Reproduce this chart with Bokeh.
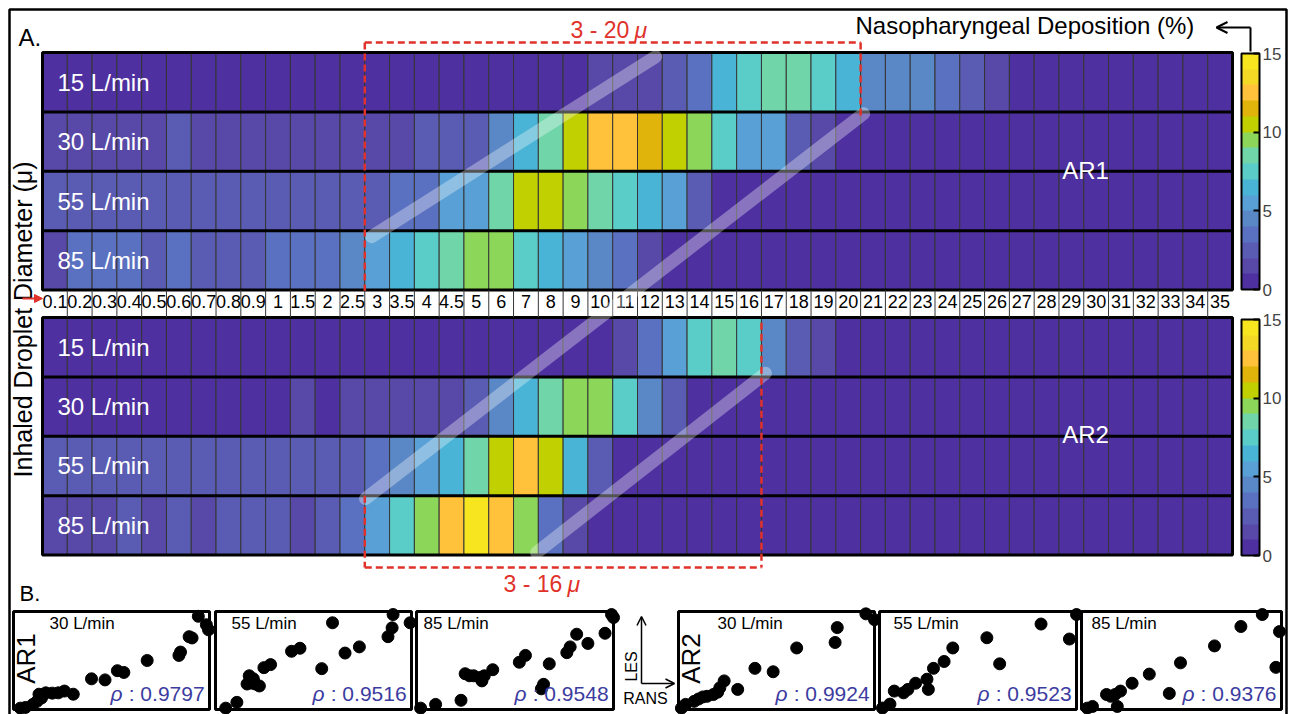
from math import pi
from bokeh.plotting import figure
from bokeh.models import (Range1d, LinearColorMapper, ColorBar, FixedTicker, Label,
                          Arrow, OpenHead, NormalHead, ColumnDataSource, BoxAnnotation)
from bokeh.transform import transform
from bokeh.core.properties import value
from bokeh.embed import file_html
from bokeh.resources import INLINE

# ---------------- data ----------------
diameters = ["0.1", "0.2", "0.3", "0.4", "0.5", "0.6", "0.7", "0.8", "0.9", "1", "1.5", "2", "2.5",
             "3", "3.5", "4", "4.5", "5", "6", "7", "8", "9", "10", "11", "12", "13", "14", "15",
             "16", "17", "18", "19", "20", "21", "22", "23", "24", "25", "26", "27", "28", "29",
             "30", "31", "32", "33", "34", "35"]
flow_rates = ["15 L/min", "30 L/min", "55 L/min", "85 L/min"]

# Nasopharyngeal deposition (%) per diameter, AR1
ar1_15 = [0.4, 0.4, 0.4, 0.4, 0.4, 0.4, 0.4, 0.4, 0.4, 0.4, 0.4, 0.4, 0.4, 0.4, 0.4, 0.4,
          0.4, 0.4, 0.4, 0.4, 0.4, 0.4, 1.5, 1.5, 1.5, 2.5, 3.5, 6.5, 7.5, 8.5, 8.5, 7.5,
          6.5, 4.5, 4.5, 4.5, 3.5, 2.5, 1.5, 0.4, 0.4, 0.4, 0.4, 0.4, 0.4, 0.4, 0.4, 0.4]
ar1_30 = [1.5, 1.5, 1.5, 1.5, 1.5, 2.5, 1.5, 1.5, 1.5, 1.5, 1.5, 1.5, 1.5, 1.5, 1.5, 2.5,
          2.5, 2.5, 4.5, 6.5, 8.5, 10.5, 12.5, 12.5, 11.5, 10.5, 9.5, 7.5, 5.5, 5.5, 2.5, 1.5,
          0.4, 0.4, 0.4, 0.4, 0.4, 0.4, 0.4, 0.4, 0.4, 0.4, 0.4, 0.4, 0.4, 0.4, 0.4, 0.4]
ar1_55 = [2.5, 2.5, 2.5, 2.5, 2.5, 2.5, 2.5, 2.5, 2.5, 2.5, 2.5, 2.5, 2.5, 2.5, 3.5, 3.5,
          5.5, 5.5, 8.5, 10.5, 10.5, 9.5, 8.5, 7.5, 6.5, 5.5, 2.5, 0.4, 0.4, 0.4, 0.4, 0.4,
          0.4, 0.4, 0.4, 0.4, 0.4, 0.4, 0.4, 0.4, 0.4, 0.4, 0.4, 0.4, 0.4, 0.4, 0.4, 0.4]
ar1_85 = [1.5, 3.5, 3.5, 3.5, 2.5, 3.5, 2.5, 2.5, 2.5, 3.5, 3.5, 3.5, 4.5, 5.5, 6.5, 7.5,
          8.5, 9.5, 9.5, 7.5, 6.5, 5.5, 4.5, 3.5, 1.5, 0.4, 0.4, 0.4, 0.4, 0.4, 0.4, 0.4,
          0.4, 0.4, 0.4, 0.4, 0.4, 0.4, 0.4, 0.4, 0.4, 0.4, 0.4, 0.4, 0.4, 0.4, 0.4, 0.4]
# AR2
ar2_15 = [0.4, 0.4, 0.4, 0.4, 0.4, 0.4, 0.4, 0.4, 0.4, 0.4, 0.4, 0.4, 0.4, 0.4, 0.4, 0.4,
          0.4, 0.4, 0.4, 0.4, 0.4, 0.4, 0.4, 1.5, 3.5, 5.5, 7.5, 8.5, 7.5, 4.5, 2.5, 1.5,
          0.4, 0.4, 0.4, 0.4, 0.4, 0.4, 0.4, 0.4, 0.4, 0.4, 0.4, 0.4, 0.4, 0.4, 0.4, 0.4]
ar2_30 = [0.4, 0.4, 0.4, 0.4, 0.4, 0.4, 0.4, 0.4, 0.4, 0.4, 1.5, 0.4, 1.5, 1.5, 1.5, 1.5,
          1.5, 2.5, 4.5, 6.5, 8.5, 9.5, 9.5, 7.5, 4.5, 2.5, 0.4, 0.4, 0.4, 0.4, 0.4, 0.4,
          0.4, 0.4, 0.4, 0.4, 0.4, 0.4, 0.4, 0.4, 0.4, 0.4, 0.4, 0.4, 0.4, 0.4, 0.4, 0.4]
ar2_55 = [2.5, 2.5, 2.5, 2.5, 2.5, 2.5, 2.5, 2.5, 2.5, 2.5, 2.5, 2.5, 2.5, 3.5, 4.5, 5.5,
          6.5, 8.5, 10.5, 12.5, 10.5, 6.5, 2.5, 0.4, 0.4, 0.4, 0.4, 0.4, 0.4, 0.4, 0.4, 0.4,
          0.4, 0.4, 0.4, 0.4, 0.4, 0.4, 0.4, 0.4, 0.4, 0.4, 0.4, 0.4, 0.4, 0.4, 0.4, 0.4]
ar2_85 = [1.5, 1.5, 1.5, 2.5, 1.5, 2.5, 1.5, 2.5, 2.5, 2.5, 1.5, 2.5, 3.5, 5.5, 7.5, 9.5,
          12.5, 14.5, 12.5, 9.5, 3.5, 1.5, 0.4, 0.4, 0.4, 0.4, 0.4, 0.4, 0.4, 0.4, 0.4, 0.4,
          0.4, 0.4, 0.4, 0.4, 0.4, 0.4, 0.4, 0.4, 0.4, 0.4, 0.4, 0.4, 0.4, 0.4, 0.4, 0.4]

palette = ["#4E30A0", "#5848A8", "#5A5CB4", "#5A70C0", "#5A88C6", "#58A0D6", "#4AB4D6",
           "#5ACDC8", "#70D6AA", "#8CD65A", "#C0D000", "#E0B40A", "#FFC23A", "#F3D926", "#F6E51F"]
cbar_ticks = [0, 5, 10, 15]

# Panel B: RANS (x) vs LES (y) deposition, relative scale
ar1_30_rans = [3.5, 6.1, 9.9, 12, 13, 14.3, 16.5, 19.8, 22.9, 26, 30.5, 39.8, 46.7, 53, 56.3, 68.2, 84.4, 85.2, 89.6, 91.1, 94.3, 98.4, 99.5]
ar1_30_les = [1.4, 2.1, 5.2, 8.3, 15.6, 11.8, 17, 16.7, 17, 18.8, 15.6, 31.3, 30.2, 39.6, 37.8, 50, 55.2, 58.6, 74.3, 73, 95.1, 86.5, 81.3]
ar1_55_rans = [5.2, 10.9, 16.1, 17.2, 19.3, 18.2, 20.3, 22.4, 24.7, 28.1, 38.8, 43.1, 54.2, 59.7, 66.1, 73.4, 88, 90.1, 90.6, 99.3]
ar1_55_les = [1.4, 7.3, 26, 34.4, 31.3, 27, 26, 24, 42.7, 45.8, 59.4, 62.5, 41.7, 88.5, 57.6, 63.9, 74.3, 83.3, 96.9, 88.5]
ar1_85_rans = [2.1, 9.7, 22.6, 24.7, 26.9, 29, 32.1, 33.2, 34.4, 38.7, 52.2, 55.3, 63.4, 64.5, 67.4, 76.3, 78, 81.3, 87, 95.7, 99, 100]
ar1_85_les = [1.4, 5.2, 9.4, 36.5, 34.4, 34.4, 32.6, 29.2, 34.4, 40.6, 48.2, 55.2, 21.1, 25.7, 46.6, 58, 63.9, 76.8, 67.4, 77.8, 96.9, 93.8]
ar2_30_rans = [1.5, 3.6, 8, 10.2, 12.4, 14.6, 17.8, 20, 21.1, 23.3, 30.2, 39, 48.3, 60.3, 79.9, 81, 95.6, 100]
ar2_30_les = [1.4, 5.2, 8.3, 10.7, 12.8, 13.5, 15.3, 17.7, 22.2, 29.2, 20.5, 42, 38.5, 62.8, 68.4, 83.6, 97.6, 91.7]
ar2_55_rans = [1.5, 5.3, 7.5, 12.2, 14.4, 18.3, 24.1, 24.8, 27.4, 32.8, 37.2, 54.5, 61, 82, 96.4, 100]
ar2_55_les = [1.5, 5.5, 18.8, 17, 20.5, 26.8, 30.9, 20.5, 42, 49, 62.8, 73.2, 46.6, 87.2, 71.9, 96.9]
ar2_85_rans = [2.9, 5.5, 12.5, 14.6, 16.8, 19.5, 17.9, 25.3, 33.9, 43.9, 49.5, 66.5, 79.7, 90.4, 97.2, 99]
ar2_85_les = [1.4, 3.1, 15.3, 13.5, 15.3, 18.8, 3.1, 26.8, 36.1, 16.4, 47.6, 64.9, 84.7, 96.9, 43, 79.5]

panel_titles = ["30  L/min", "55  L/min", "85  L/min", "30  L/min", "55  L/min", "85  L/min"]
panel_rho = ["0.9797", "0.9516", "0.9548", "0.9924", "0.9523", "0.9376"]
panel_ar = ["AR1", "", "", "AR2", "", ""]

# ---------------- layout constants (page pixels) ----------------
W, H = 1295, 714
NCOL = len(diameters)
NROW = len(flow_rates)
COL_PX = 1190 / NCOL
ROW_PX = 59.4
X0, Y0 = 42, 52
GAP = 0.461
FONT = "Liberation Sans"
RED = "#E0322A"

def dxp(px):
    return (px - X0) / COL_PX

def dyp(py):
    return (py - Y0) / ROW_PX

def sx(px):
    return px

def sy(py):
    return H - py

p = figure(width=W, height=H, output_backend="svg", toolbar_location=None,
           x_range=Range1d(-X0 / COL_PX, (W - X0) / COL_PX),
           y_range=Range1d((H - Y0) / ROW_PX, -Y0 / ROW_PX),
           x_axis_location=None, y_axis_location=None, min_border=0)
p.grid.visible = False
p.outline_line_color = None
p.background_fill_color = "white"
p.border_fill_color = "white"

# outer frame of the figure
p.add_layout(BoxAnnotation(left=9, right=1286, top=sy(9), bottom=-20,
                           left_units="screen", right_units="screen",
                           top_units="screen", bottom_units="screen",
                           fill_alpha=0, line_color="black", line_alpha=1, line_width=2.5))

mapper = LinearColorMapper(palette=palette, low=0, high=15)

# ---------------- heatmaps ----------------
blocks = [[ar1_15, ar1_30, ar1_55, ar1_85], [ar2_15, ar2_30, ar2_55, ar2_85]]
cx, cy, cv = [], [], []
for b, rows in enumerate(blocks):
    for r, series in enumerate(rows):
        for c, v in enumerate(series):
            cx.append(c + 0.5)
            cy.append(b * (NROW + GAP) + r + 0.5)
            cv.append(v)
src = ColumnDataSource(dict(x=cx, y=cy, v=cv))
p.rect(x="x", y="y", width=1, height=1, source=src, fill_color=transform("v", mapper),
       line_color="#353535", line_width=1)

hy = [b * (NROW + GAP) + r for b in range(2) for r in range(1, NROW)]
p.segment(x0=[0] * len(hy), y0=hy, x1=[NCOL] * len(hy), y1=hy, line_color="black", line_width=3)
p.rect(x=[NCOL / 2] * 2, y=[NROW / 2, NROW + GAP + NROW / 2], width=NCOL, height=NROW,
       fill_color=None, line_color="black", line_width=3)

# tick row separators and labels
sep = list(range(1, NCOL))
p.segment(x0=sep, y0=[NROW] * len(sep), x1=sep, y1=[NROW + GAP] * len(sep),
          line_color="#353535", line_width=1)
p.text(x=[c + 0.5 for c in range(NCOL)], y=[dyp(301)] * NCOL, text=diameters,
       text_font=value(FONT), text_font_size="18px", text_align="center",
       text_baseline="middle", text_color="black")

# row labels
rl_y = [b * (NROW + GAP) + r + 0.5 for b in range(2) for r in range(NROW)]
p.text(x=[dxp(57)] * len(rl_y), y=rl_y, text=flow_rates * 2, text_font=value(FONT),
       text_font_size="24px", text_align="left", text_baseline="middle", text_color="white")
p.text(x=[dxp(1085)] * 2, y=[dyp(170), dyp(434)], text=["AR1", "AR2"], text_font=value(FONT),
       text_font_size="24px", text_align="center", text_baseline="middle", text_color="white")

# translucent guide bands
p.multi_line(xs=[[13.27, 24.73], [33.12, 13.03], [29.16, 19.93]],
             ys=[[3.10, 0.07], [1.03, 7.51], [5.40, 8.42]],
             line_color="white", line_alpha=0.33, line_width=13, line_cap="round")

# red dashed range boxes
i3 = diameters.index("3")
i20 = diameters.index("20") + 1
i16 = diameters.index("16") + 1
ytop = dyp(42)
ybot = dyp(567)
p.segment(x0=[i3, i3, i20, i3, i3, i16],
          y0=[ytop, ytop, ytop, ybot, 2 * NROW + GAP - 1, NROW + GAP + 0.09],
          x1=[i20, i3, i20, i16, i3, i16],
          y1=[ytop, NROW + 0.01, 1.06, ybot, ybot, ybot],
          line_color=RED, line_width=2.5, line_dash="7 4")

# colour bars
for ybottom in (289, 555):
    cb = ColorBar(color_mapper=mapper, ticker=FixedTicker(ticks=cbar_ticks), orientation="vertical",
                  width=18, height=236, location=(sx(1241), sy(ybottom)), padding=0, margin=0,
                  bar_line_color="black", bar_line_width=2,
                  major_tick_line_color="black", major_tick_line_width=2,
                  major_tick_in=6, major_tick_out=0, minor_tick_line_color=None,
                  label_standoff=3, major_label_text_font=FONT, major_label_text_font_size="17px",
                  background_fill_color=None, border_line_color=None)
    p.add_layout(cb, "center")

# ---------------- titles / annotations ----------------
def lab(text, px, py, size, color="black", align="left", angle=0, style="normal"):
    p.add_layout(Label(x=sx(px), y=sy(py), x_units="screen", y_units="screen", text=text,
                       text_font=FONT, text_font_size=size, text_color=color, text_align=align,
                       text_baseline="middle", angle=angle, text_font_style=style))

lab("A.", 18, 37, "24px")
lab("B.", 19, 593, "22px")
lab("3 - 20", 570, 29, "23px", RED)
lab("\u03bc", 634, 29, "23px", RED, style="italic")
lab("3 - 16", 503, 583, "23px", RED)
lab("\u03bc", 567, 583, "23px", RED, style="italic")
lab("Nasopharyngeal Deposition (%)", 855, 25, "24px")
lab("Inhaled Droplet Diameter (\u03bc)", 22, 319, "25px", align="center", angle=pi / 2)

p.add_layout(Arrow(x_start=sx(1250), y_start=sy(51), x_end=sx(1250), y_end=sy(27),
                   start_units="screen", end_units="screen", end=None, line_width=2))
p.add_layout(Arrow(x_start=sx(1250), y_start=sy(27), x_end=sx(1216), y_end=sy(27),
                   start_units="screen", end_units="screen",
                   end=OpenHead(size=11, line_width=2), line_width=2))
p.add_layout(Arrow(x_start=sx(22), y_start=sy(298), x_end=sx(42), y_end=sy(298),
                   start_units="screen", end_units="screen", line_color=RED, line_width=2,
                   end=NormalHead(size=8, fill_color=RED, line_color=RED)))

# LES / RANS key
p.add_layout(Arrow(x_start=sx(641), y_start=sy(683), x_end=sx(641), y_end=sy(616),
                   start_units="screen", end_units="screen", line_width=1.5,
                   end=OpenHead(size=9, line_width=1.5)))
p.add_layout(Arrow(x_start=sx(641), y_start=sy(683), x_end=sx(674), y_end=sy(683),
                   start_units="screen", end_units="screen", line_width=1.5,
                   end=OpenHead(size=9, line_width=1.5)))
lab("LES", 631, 666, "16px", align="center", angle=pi / 2)
lab("RANS", 645, 698, "16px", align="center")

# ---------------- scatter panels ----------------
panel_data = [(ar1_30_rans, ar1_30_les), (ar1_55_rans, ar1_55_les), (ar1_85_rans, ar1_85_les),
              (ar2_30_rans, ar2_30_les), (ar2_55_rans, ar2_55_les), (ar2_85_rans, ar2_85_les)]
panel_box = [(13, 209), (215, 411), (416, 613), (678, 874), (879, 1076), (1081, 1281)]
title_off = [36, 16, 7, 39, 14, 10]
PT, PB = 611, 709

for i, ((rx, ly), (L, R)) in enumerate(zip(panel_data, panel_box)):
    kx = 100 / (R - L)
    xs0 = -L * kx
    ky = 100 / (PB - PT)
    ys0 = -(H - PB) * ky
    xn, yn = f"px{i}", f"py{i}"
    p.extra_x_ranges[xn] = Range1d(xs0, xs0 + W * kx)
    p.extra_y_ranges[yn] = Range1d(ys0, ys0 + H * ky)
    p.scatter(x=rx, y=ly, size=12, fill_color="black", line_color="black",
              x_range_name=xn, y_range_name=yn)
    p.rect(x=[50], y=[50], width=100, height=100, fill_color=None, line_color="black",
           line_width=3, x_range_name=xn, y_range_name=yn)
    tx = title_off[i] * kx
    p.text(x=[tx], y=[88], text=[panel_titles[i]], text_font=value(FONT), text_font_size="17px",
           text_align="left", text_baseline="middle", x_range_name=xn, y_range_name=yn)
    p.text(x=[97.5], y=[16], text=[": " + panel_rho[i]], text_font=value(FONT),
           text_font_size="21px", text_align="right", text_baseline="middle",
           text_color="#3C3CA0", x_range_name=xn, y_range_name=yn)
    p.text(x=[97.5 - 82 * kx], y=[16], text=["\u03c1"], text_font=value(FONT),
           text_font_size="21px", text_font_style=value("italic"), text_align="right",
           text_baseline="middle", text_color="#3C3CA0", x_range_name=xn, y_range_name=yn)
    if panel_ar[i]:
        p.text(x=[12 * kx], y=[52], text=[panel_ar[i]], text_font=value(FONT),
               text_font_size="26px", text_align="center", text_baseline="middle",
               angle=pi / 2, x_range_name=xn, y_range_name=yn)

open("out.html", "w").write(file_html(p, INLINE))
